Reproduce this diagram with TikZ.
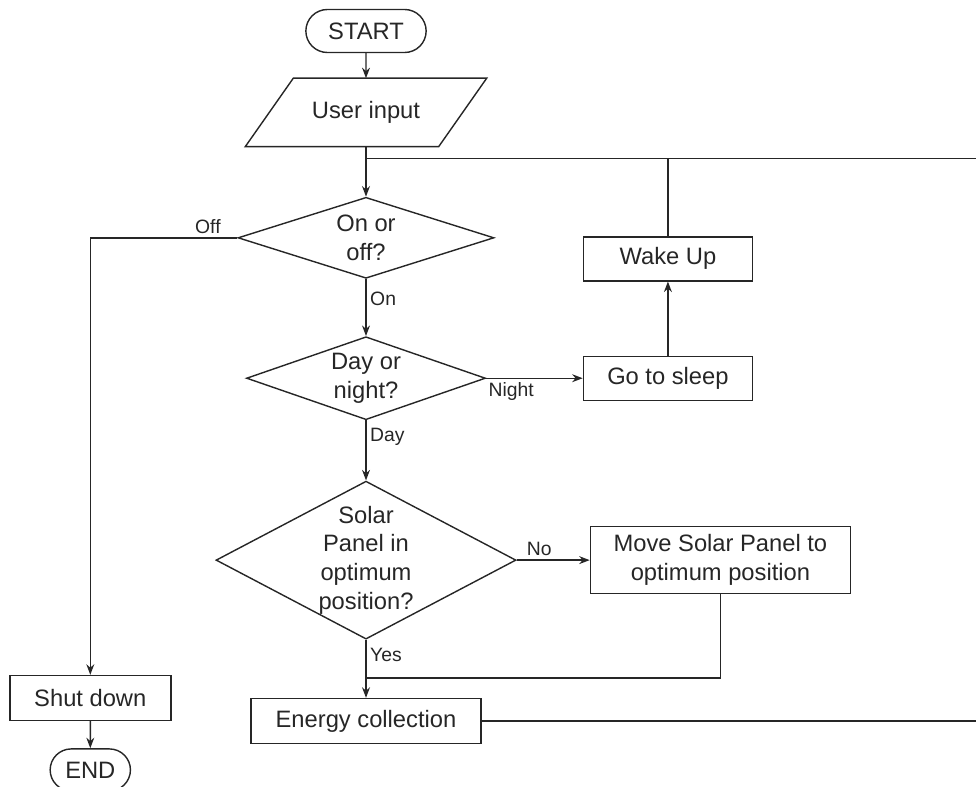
\documentclass[tikz,border=0pt]{standalone}
\usepackage{fontspec}
\setmainfont{Liberation Sans}
\usetikzlibrary{shapes.geometric, shapes.misc, arrows.meta, positioning, calc}

\begin{document}
\begin{tikzpicture}[>={Stealth[length=6pt, width=4.5pt]}, line width=0.8pt, color=black!85,
  box/.style={rectangle, draw, minimum width=#1, minimum height=0.88cm, align=center, font=\fontsize{13.5}{16.4}\selectfont},
  box/.default=3.38cm,
  terminal/.style={rounded rectangle, draw, minimum width=#1, minimum height=0.86cm, font=\fontsize{13.5}{16.4}\selectfont},
  decision/.style={diamond, draw, align=center, inner sep=-3pt, font=\fontsize{13.5}{16.4}\selectfont},
  tag/.style={font=\fontsize{11}{13}\selectfont, inner sep=2pt}]
  \useasboundingbox (0,0) rectangle (19.52,-15.74);
  \node[terminal=2.64cm] (start) at (7.32,-0.62) {START};
  \node[minimum width=3.84cm, minimum height=1.34cm, font=\fontsize{13.5}{16.4}\selectfont, below=0.5cm of start] (input) {User input};
  \draw ($(input.south west)+(-0.48,0)$) -- ($(input.north west)+(0.48,0)$) -- ($(input.north east)+(0.48,0)$) -- ($(input.south east)+(-0.48,0)$) -- cycle;
  \node[decision, minimum width=5.12cm, minimum height=1.62cm, aspect=3.16, below=1.0cm of input] (onoff) {On or\\off?};
  \node[decision, minimum width=4.78cm, minimum height=1.66cm, aspect=2.88, below=1.14cm of onoff] (daynight) {Day or\\night?};
  \node[decision, minimum width=6cm, minimum height=3.16cm, aspect=1.9, below=1.2cm of daynight] (solar) {Solar\\Panel in\\optimum\\position?};
  \node[box=4.6cm, minimum height=0.9cm, below=1.16cm of solar] (energy) {Energy collection};
  \node[box, right=1.93cm of daynight] (sleep) {Go to sleep};
  \node[box, above=1.48cm of sleep] (wake) {Wake Up};
  \node[box=5.2cm, minimum height=1.34cm, right=1.46cm of solar] (move) {Move Solar Panel to\\optimum position};
  \coordinate (offturn) at ($(onoff.west)+(-2.94,0)$);
  \node[box=3.22cm, minimum height=0.9cm, below=8.74cm of offturn] (shut) {Shut down};
  \node[terminal=1.84cm, minimum height=0.84cm, below=0.54cm of shut] (stop) {END};
  \coordinate (join) at ($(input.south)+(0,-0.24)$);
  \coordinate (merge) at ($(energy.north)+(0,0.4)$);
  \draw[->] (start) -- (input);
  \draw[->] (input) -- (onoff);
  \draw[->] (onoff) -- node[tag, right, pos=0.35]{On} (daynight);
  \draw[->] (onoff.west) -- node[tag, above, pos=0.2]{Off} (offturn) -- (shut);
  \draw[->] (shut) -- (stop);
  \draw[->] (daynight) -- node[tag, below, pos=0.26]{Night} (sleep);
  \draw[->] (sleep) -- (wake);
  \draw (wake) -- (wake |- join);
  \draw[->] (daynight) -- node[tag, right, pos=0.28]{Day} (solar);
  \draw[->] (solar) -- node[tag, above, pos=0.31]{No} (move);
  \draw[->] (solar) -- node[tag, right, pos=0.26]{Yes} (energy);
  \draw (move) |- (merge);
  \draw (energy.east) -- ++(10.2,0) |- (join);
\end{tikzpicture}
\end{document}
